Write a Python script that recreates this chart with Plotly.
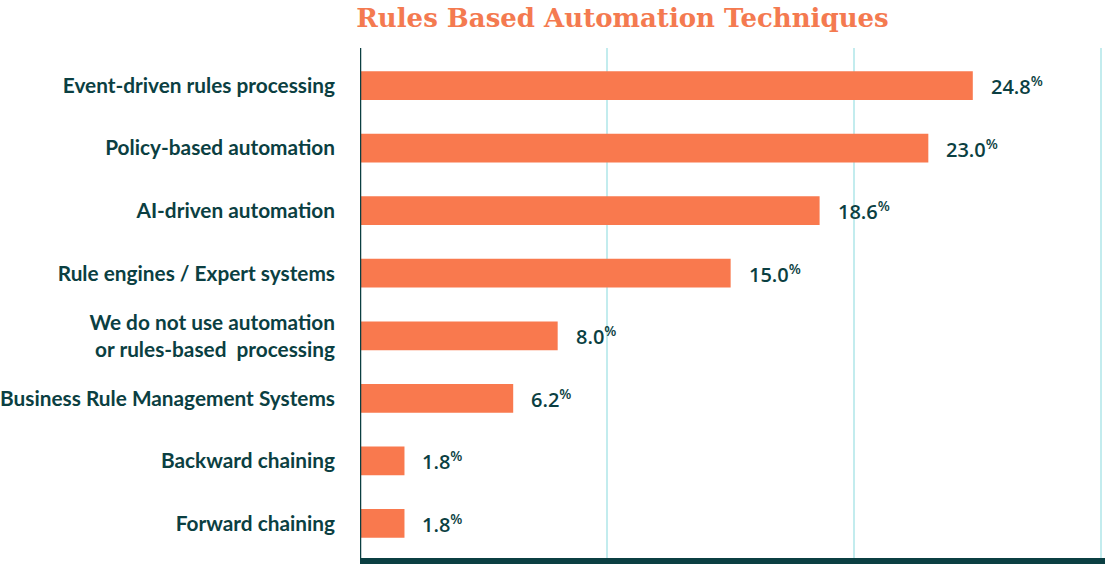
import plotly.graph_objects as go

categories = [
    "Event-driven rules processing",
    "Policy-based automation",
    "AI-driven automation",
    "Rule engines / Expert systems",
    "We do not use automation<br>or rules-based  processing",
    "Business Rule Management Systems",
    "Backward chaining",
    "Forward chaining",
]
values = [24.8, 23.0, 18.6, 15.0, 8.0, 6.2, 1.8, 1.8]
x_ticks = [0, 10, 20, 30]

BAR = "#F9794E"
DARK = "#0B3F42"
GRID = "#C3ECEE"

W, H = 1105, 566

fig = go.Figure()
fig.add_trace(go.Bar(
    y=categories, x=values, orientation="h",
    marker=dict(color=BAR, line=dict(width=0)),
    width=0.46, hoverinfo="skip",
))

for c, v in zip(categories, values):
    fig.add_annotation(
        x=v, y=c, xref="x", yref="y",
        text=f"{v:.1f}<sup>%</sup>",
        showarrow=False, xanchor="left", xshift=16, yshift=0,
        font=dict(family="Open Sans", size=20, color=DARK, weight=600),
    )

fig.update_layout(
    width=W, height=H,
    margin=dict(l=360, r=0, t=48, b=5, autoexpand=False),
    paper_bgcolor="white", plot_bgcolor="white",
    showlegend=False,
    title=dict(
        text="<b>Rules Based Automation Techniques</b>",
        x=622.5 / W, xanchor="center", y=1 - 18 / H, yanchor="middle",
        font=dict(family="DejaVu Serif", size=26, color="#F47A50"),
    ),
    font=dict(family="Lato", color=DARK),
)

fig.update_xaxes(
    range=[0, 30.15], tickvals=x_ticks, showticklabels=False,
    showgrid=True, gridcolor=GRID, gridwidth=2,
    zeroline=False, showline=False, automargin=False,
)
fig.update_yaxes(
    categoryorder="array", categoryarray=categories,
    autorange=False, range=[7.6, -0.6],
    showgrid=False, zeroline=False, automargin=False,
    showline=False, ticks="", ticklabelstandoff=24,
    tickfont=dict(family="Lato", size=20.8, color=DARK, weight=700),
)

fig.add_shape(type="line", xref="x", yref="paper", x0=0, x1=0, y0=0, y1=1,
              line=dict(color=DARK, width=2.5))
fig.add_shape(type="line", xref="paper", yref="paper", x0=0, x1=1,
              y0=0.0, y1=0.0, line=dict(color=DARK, width=6))

fig.write_html(
    "out.html",
    config={"displayModeBar": False},
    post_script="document.body.style.margin='0';document.body.style.padding='0';",
)
